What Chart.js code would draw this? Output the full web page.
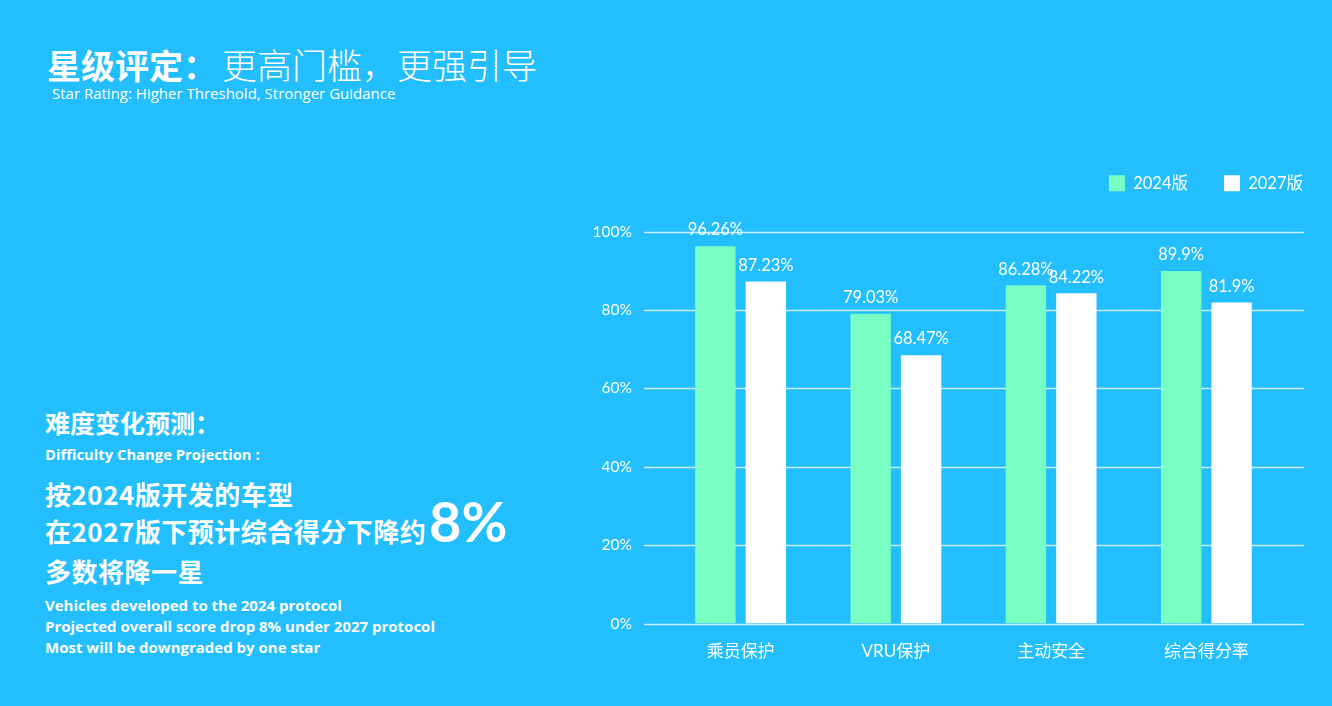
<!DOCTYPE html>
<html>
<head>
<meta charset="utf-8">
<script src="https://cdn.jsdelivr.net/npm/chart.js@4.4.1/dist/chart.umd.min.js"></script>
<style>
  html, body { margin: 0; padding: 0; }
  body {
    width: 1332px; height: 706px; overflow: hidden; position: relative;
    background: #22befe; color: #fff;
    font-family: "Noto Sans CJK SC", "Noto Sans", sans-serif;
  }
  .t { position: absolute; white-space: nowrap; line-height: 1; }
  #title { left: 47px; top: 46px; font-size: 34px; }
  #title b { font-weight: 700; }
  #title span { font-weight: 300; font-size: 35px; margin-left: 5px; }
  #sub { left: 52px; top: 86px; font-size: 15px; font-family: "Open Sans", sans-serif; }
  #h1 { left: 45px; top: 410px; font-size: 25px; font-weight: 700; }
  #h1en { left: 45px; top: 447px; font-size: 14.8px; font-weight: 700; font-family: "Open Sans", sans-serif; }
  .big { left: 45px; font-size: 26px; font-weight: 700; letter-spacing: 0.5px; }
  #l1 { top: 481px; }
  #l2 { top: 518px; }
  #l3 { top: 558px; }
  #pct { left: 429px; top: 493px; font-family: Lato, sans-serif; font-size: 56px; font-weight: 700; }
  .en { left: 45px; font-size: 15px; font-weight: 700; font-family: "Open Sans", sans-serif; }
  #e1 { top: 598px; }
  #e2 { top: 619px; }
  #e3 { top: 640px; }
  #chartBox { position: absolute; left: 560px; top: 139px; width: 779px; height: 567px; }
</style>
</head>
<body>
<div class="t" id="title"><b>星级评定：</b><span>更高门槛，更强引导</span></div>
<div class="t" id="sub">Star Rating: Higher Threshold, Stronger Guidance</div>

<div class="t" id="h1">难度变化预测：</div>
<div class="t" id="h1en">Difficulty Change Projection :</div>
<div class="t big" id="l1">按2024版开发的车型</div>
<div class="t big" id="l2">在2027版下预计综合得分下降约</div>
<div class="t" id="pct">8%</div>
<div class="t big" id="l3">多数将降一星</div>
<div class="t en" id="e1">Vehicles developed to the 2024 protocol</div>
<div class="t en" id="e2">Projected overall score drop 8% under 2027 protocol</div>
<div class="t en" id="e3">Most will be downgraded by one star</div>

<div id="chartBox"><canvas id="chart"></canvas></div>

<script>
// chart data
const categories = ["乘员保护", "VRU保护", "主动安全", "综合得分率"];
const scores2024 = [96.26, 79.03, 86.28, 89.9];
const scores2027 = [87.23, 68.47, 84.22, 81.9];
const yTicks = [0, 20, 40, 60, 80, 100];

const chartFont = "Lato, 'Noto Sans CJK SC', sans-serif";

// push the plot area down below the legend
const legendGap = {
  id: "legendGap",
  beforeInit(chart) {
    const fit = chart.legend.fit;
    chart.legend.fit = function () {
      fit.bind(chart.legend)();
      this.height += 30;
    };
  },
};

// horizontal lines a bit wider than the plot area
const wideGrid = {
  id: "wideGrid",
  beforeDatasetsDraw(chart) {
    const { ctx, chartArea } = chart;
    const y = chart.scales.y;
    ctx.save();
    ctx.strokeStyle = "rgba(255,255,255,0.75)";
    ctx.lineWidth = 1.5;
    yTicks.forEach((v) => {
      const py = Math.round(y.getPixelForValue(v)) + 0.5;
      ctx.beginPath();
      ctx.moveTo(chartArea.left - 19, py);
      ctx.lineTo(chartArea.right + 20, py);
      ctx.stroke();
    });
    ctx.restore();
  },
};

// value labels above bars
const valueLabels = {
  id: "valueLabels",
  afterDatasetsDraw(chart) {
    const { ctx } = chart;
    ctx.save();
    ctx.fillStyle = "#ffffff";
    ctx.font = "16.5px " + chartFont;
    ctx.textAlign = "center";
    ctx.textBaseline = "middle";
    chart.data.datasets.forEach((ds, i) => {
      chart.getDatasetMeta(i).data.forEach((bar, j) => {
        ctx.fillText(ds.data[j] + "%", bar.x, bar.y - 16);
      });
    });
    ctx.restore();
  },
};

new Chart(document.getElementById("chart"), {
  type: "bar",
  data: {
    labels: categories,
    datasets: [
      {
        label: "2024版",
        data: scores2024,
        backgroundColor: "#79ffc4",
        categoryPercentage: 0.65,
        barPercentage: 0.8,
      },
      {
        label: "2027版",
        data: scores2027,
        backgroundColor: "#ffffff",
        categoryPercentage: 0.65,
        barPercentage: 0.8,
      },
    ],
  },
  options: {
    responsive: true,
    maintainAspectRatio: false,
    animation: false,
    layout: { padding: { top: 0, bottom: 26, left: 0, right: 0 } },
    scales: {
      x: {
        grid: { display: false, drawTicks: false },
        border: { display: false },
        ticks: {
          color: "#ffffff",
          font: { family: chartFont, size: 17 },
          padding: 18,
        },
      },
      y: {
        min: 0,
        max: 100,
        afterBuildTicks: (scale) => {
          scale.ticks = yTicks.map((v) => ({ value: v }));
        },
        grid: { display: false, drawTicks: false },
        border: { display: false },
        afterFit: (scale) => {
          scale.width = 103;
        },
        ticks: {
          color: "#ffffff",
          font: { family: chartFont, size: 15.5 },
          padding: 31,
          callback: (v) => v + "%",
        },
      },
      yRight: {
        position: "right",
        display: true,
        grid: { display: false, drawTicks: false },
        border: { display: false },
        ticks: { display: false },
        afterFit: (scale) => {
          scale.width = 55;
        },
      },
    },
    plugins: {
      legend: {
        position: "top",
        align: "end",
        labels: {
          color: "#ffffff",
          boxWidth: 16,
          boxHeight: 16,
          padding: 36,
          font: { family: chartFont, size: 16.5 },
        },
      },
      tooltip: { enabled: false },
    },
  },
  plugins: [legendGap, wideGrid, valueLabels],
});
</script>
</body>
</html>
